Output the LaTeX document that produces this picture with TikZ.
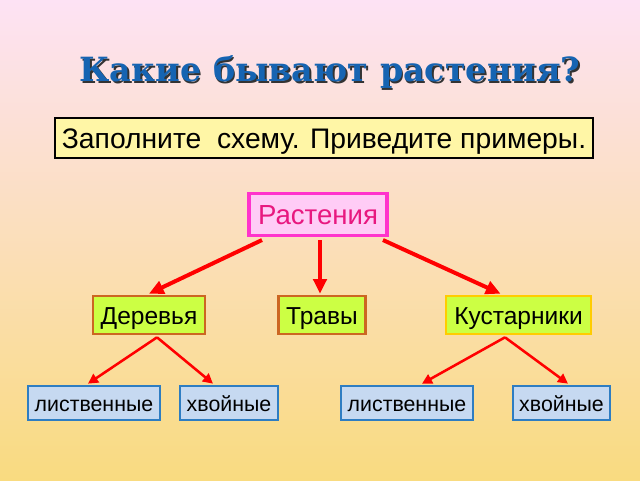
\documentclass[tikz,border=0pt]{standalone}
\usepackage{fontspec}
\setmainfont{Liberation Sans}
\newfontfamily\titlefont{DejaVu Serif}
\usetikzlibrary{arrows.meta,calc}
\definecolor{bgtop}{HTML}{FDE2F4}
\definecolor{bgmid}{HTML}{FCE3C6}
\definecolor{bgbot}{HTML}{F9DB80}
\definecolor{titleblue}{HTML}{1664B2}
\definecolor{instrfill}{HTML}{FFF6A6}
\definecolor{rastfill}{HTML}{FFCCF6}
\definecolor{rastdraw}{HTML}{FF33CC}
\definecolor{rasttext}{HTML}{E8187F}
\definecolor{greenfill}{HTML}{CCFF44}
\definecolor{brownline}{HTML}{CC6622}
\definecolor{goldline}{HTML}{FFCC00}
\definecolor{bluefill}{HTML}{C6D9F1}
\definecolor{blueline}{HTML}{2E7DC2}
\definecolor{arrowred}{HTML}{FF0000}
\tikzset{
  box/.style={rectangle, inner sep=0pt, align=center},
  instrbox/.style={box, fill=instrfill, draw=black, line width=1.2pt, font=\fontsize{21.2}{25}\selectfont, text height=16.5pt, text depth=0.4pt},
  rastbox/.style={box, fill=rastfill, draw=rastdraw, line width=2.3pt, text=rasttext, font=\fontsize{20.7}{24}\selectfont, text height=16.1pt, text depth=0.4pt},
  kindbox/.style={box, fill=greenfill, line width=2pt, font=\fontsize{18.4}{22}\selectfont, text height=14.4pt, text depth=0.4pt},
  leafbox/.style={box, fill=bluefill, draw=blueline, line width=2pt, font=\fontsize{16}{19}\selectfont, text height=12.5pt, text depth=0.3pt},
  bigarrow/.style={draw=arrowred, line width=3pt, -{Triangle[length=11pt,width=10pt]}},
  smallarrow/.style={draw=arrowred, line width=1.9pt, -{Triangle[length=7.5pt,width=7.5pt]}},
  titletext/.style={font=\titlefont\bfseries\fontsize{25}{30}\selectfont, inner sep=0pt}
}
\begin{document}
\begin{tikzpicture}[x=0.75pt,y=-0.75pt]
\shade[top color=bgtop, middle color=bgmid, bottom color=bgbot] (0,0) rectangle (640,480);
\useasboundingbox (0,0) rectangle (640,480);
% title with shadow
\node[titletext, text=black!80] (titleshadow) at (331.6,73.6) {Какие бывают растения?};
\node[titletext, text=titleblue] (title) at (330,72) {Какие бывают растения?};
% instruction
\node[instrbox, minimum width=403.5pt, minimum height=30pt] (instr) at (324,138) {Заполните\ \ схему. Приведите примеры.};
% root
\node[rastbox, minimum width=103.5pt, minimum height=31.5pt] (rast) at (318,214.5) {Растения};
% kinds
\node[kindbox, draw=brownline, minimum width=84pt, minimum height=28.5pt] (der) at (149,315) {Деревья};
\node[kindbox, draw=brownline, minimum width=65.25pt, minimum height=28.5pt] (trav) at (322,315) {Травы};
\node[kindbox, draw=goldline, minimum width=108.75pt, minimum height=28.5pt] (kust) at (518.5,315) {Кустарники};
% leaves
\node[leafbox, minimum width=99pt, minimum height=25.5pt] (l1) at (94,403) {лиственные};
\node[leafbox, minimum width=73.5pt, minimum height=25.5pt] (h1) at (229,403) {хвойные};
\node[leafbox, minimum width=99pt, minimum height=25.5pt] (l2) at (407,403) {лиственные};
\node[leafbox, minimum width=72.75pt, minimum height=25.5pt] (h2) at (561.5,403) {хвойные};
% arrows
\draw[bigarrow] ($(rast.south)+(-56,3)$) -- ($(der.north)+(0,-1)$);
\draw[bigarrow] ($(rast.south)+(2,3)$) -- ($(trav.north)+(-2,-1)$);
\draw[bigarrow] ($(rast.south)+(65,3)$) -- ($(kust.north)+(-18,-1)$);
\draw[smallarrow] ($(der.south)+(8,2)$) -- ($(l1.north)+(-6,-1)$);
\draw[smallarrow] ($(der.south)+(8,2)$) -- ($(h1.north)+(-16,-1)$);
\draw[smallarrow] ($(kust.south)+(-13.5,2)$) -- ($(l2.north)+(15,-1)$);
\draw[smallarrow] ($(kust.south)+(-13.5,2)$) -- ($(h2.north)+(6.5,-1)$);
\end{tikzpicture}
\end{document}
